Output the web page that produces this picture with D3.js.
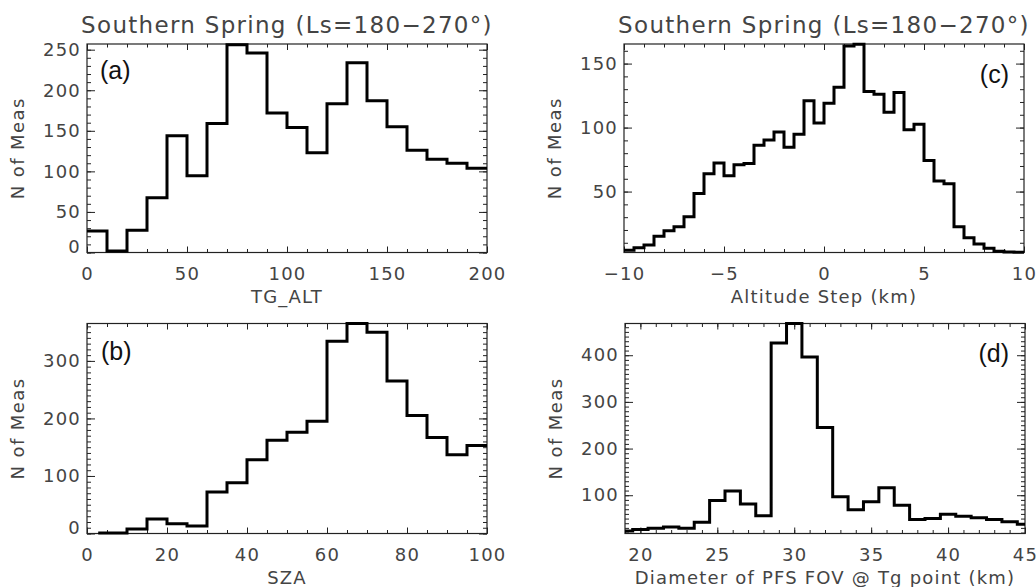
<!DOCTYPE html>
<html>
<head>
<meta charset="utf-8">
<script src="https://cdn.jsdelivr.net/npm/d3@7"></script>
<style>
  html, body { margin: 0; padding: 0; background: #fff; }
  svg { display: block; }
  text { font-family: "DejaVu Sans", sans-serif; fill: #444; }
</style>
</head>
<body>
<svg id="chart" width="1036" height="587"></svg>
<script>
// ---------------- DATA ----------------
const titleText = "Southern Spring (Ls=180\u2212270\u00B0)";
const yTitle = "N of Meas";

// (a) tangent altitude histogram: bin lower edges, bin width 10
const tgAltBins = [0,10,20,30,40,50,60,70,80,90,100,110,120,130,140,150,160,170,180,190];
const tgAltCounts = [26.5,2,27.5,67.5,144,94.5,159,256,246,172,154,123,183.5,234,187,155,126,115,110,104];
const tgAltTicks = [0,50,100,150,200];
const tgAltYTicks = [0,50,100,150,200,250];

// (b) solar zenith angle histogram: bin lower edges, bin width 5
const szaBins = [0,5,10,15,20,25,30,35,40,45,50,55,60,65,70,75,80,85,90,95];
const szaCounts = [1,1,8,25,17,13,72,88,128,162,176,195,334,365,350,265,205,167,137,153];
const szaFirstX = 2.8;
const szaTicks = [0,20,40,60,80,100];
const szaYTicks = [0,100,200,300];

// (c) altitude step histogram: bin lower edges, bin width 0.5
const altStepBins = [-10,-9.5,-9,-8.5,-8,-7.5,-7,-6.5,-6,-5.5,-5,-4.5,-4,-3.5,-3,-2.5,-2,-1.5,-1,-0.5,
                     0,0.5,1,1.5,2,2.5,3,3.5,4,4.5,5,5.5,6,6.5,7,7.5,8,8.5,9,9.5];
const altStepCounts = [4.1,6.2,8.3,15,19.4,22.5,30.3,48.4,64,72.3,62.4,71,72,86.2,90.2,96.6,84.7,94.8,121,103.6,
                       119.1,131.5,163.7,165.2,128.2,126.1,111.9,127.4,98.4,102.6,74.3,58.3,56.2,22.5,14,9,5.7,3.3,2.8,2.5];
const altStepTicks = [-10,-5,0,5,10];
const altStepYTicks = [50,100,150];

// (d) FOV diameter histogram: bin centres, bin width 1
const fovBins = [19,20,21,22,23,24,25,26,27,28,29,30,31,32,33,34,35,36,37,38,39,40,41,42,43,44,45];
const fovCounts = [23.6,26.5,29,32,29,42,88.6,109,81,56,426,468,396,245,96.5,69,86,116,78.6,48,50,59,55,52,48,43,38];
const fovTicks = [20,25,30,35,40,45];
const fovYTicks = [100,200,300,400];

// ---------------- DRAWING ----------------
const svg = d3.select("#chart");

const panels = [
  { tag: "(a)", title: true, xlabel: "TG_ALT",
    left: 87, top: 44, w: 400, h: 208.5,
    xDomain: [0, 200], yDomain: [0, 257],
    lo: tgAltBins, hi: tgAltBins.map(b => b + 10), vals: tgAltCounts, firstX: null,
    xMajor: tgAltTicks, xMinor: 10, yMajor: tgAltYTicks, yMinor: 10,
    tagX: 100, tagY: 79, tagAnchor: "start", shiftBottom: true },
  { tag: "(b)", title: false, xlabel: "SZA",
    left: 87, top: 323.5, w: 400, h: 210,
    xDomain: [0, 100], yDomain: [0, 365],
    lo: szaBins, hi: szaBins.map(b => b + 5), vals: szaCounts, firstX: szaFirstX,
    xMajor: szaTicks, xMinor: 5, yMajor: szaYTicks, yMinor: 10,
    tagX: 101, tagY: 360, tagAnchor: "start", shiftBottom: true },
  { tag: "(c)", title: true, xlabel: "Altitude Step (km)",
    left: 624, top: 44, w: 400, h: 208.5,
    xDomain: [-10, 10], yDomain: [2.4, 165.3],
    lo: altStepBins, hi: altStepBins.map(b => b + 0.5), vals: altStepCounts, firstX: null,
    xMajor: altStepTicks, xMinor: 1, yMajor: altStepYTicks, yMinor: 10,
    tagX: 1009, tagY: 83, tagAnchor: "end", shiftBottom: false },
  { tag: "(d)", title: false, xlabel: "Diameter of PFS FOV @ Tg point (km)",
    left: 625, top: 323.5, w: 400, h: 210,
    xDomain: [19, 45], yDomain: [18, 468],
    lo: fovBins.map(b => b - 0.5), hi: fovBins.map(b => b + 0.5), vals: fovCounts, firstX: null,
    xMajor: fovTicks, xMinor: 1, yMajor: fovYTicks, yMinor: 10,
    tagX: 1009, tagY: 362, tagAnchor: "end", shiftBottom: false }
];

function minorValues(domain, step) {
  const a = Math.ceil(domain[0] / step - 1e-9) * step;
  const out = [];
  for (let v = a; v <= domain[1] + 1e-9; v += step) out.push(+v.toFixed(6));
  return out;
}

panels.forEach(p => {
  const g = svg.append("g").attr("transform", `translate(${p.left},${p.top})`);
  const x = d3.scaleLinear().domain(p.xDomain).range([0, p.w]);
  const y = d3.scaleLinear().domain(p.yDomain).range([p.h, 0]);

  const fmt = d3.format("d");
  const xMinV = minorValues(p.xDomain, p.xMinor);
  const yMinV = minorValues(p.yDomain, p.yMinor);

  const styleAxis = sel => {
    sel.select(".domain").remove();
    sel.selectAll("line").attr("stroke", "#222").attr("stroke-width", 1);
    sel.selectAll("text")
      .style("font-size", "18px").style("letter-spacing", "1.2px")
      .attr("fill", "#444").style("font-family", "'DejaVu Sans', sans-serif");
  };

  // minor ticks (all four sides, inward)
  g.append("g").attr("transform", `translate(0,${p.h})`)
    .call(d3.axisBottom(x).tickValues(xMinV).tickSize(-3.5).tickFormat("")).call(styleAxis);
  g.append("g")
    .call(d3.axisTop(x).tickValues(xMinV).tickSize(-3.5).tickFormat("")).call(styleAxis);
  g.append("g")
    .call(d3.axisLeft(y).tickValues(yMinV).tickSize(-4).tickFormat("")).call(styleAxis);
  g.append("g").attr("transform", `translate(${p.w},0)`)
    .call(d3.axisRight(y).tickValues(yMinV).tickSize(-4).tickFormat("")).call(styleAxis);

  // major ticks
  g.append("g").attr("transform", `translate(0,${p.h})`)
    .call(d3.axisBottom(x).tickValues(p.xMajor).tickSize(-6).tickPadding(15).tickFormat(fmt)).call(styleAxis);
  g.append("g")
    .call(d3.axisTop(x).tickValues(p.xMajor).tickSize(-6).tickFormat("")).call(styleAxis);
  const yl = g.append("g")
    .call(d3.axisLeft(y).tickValues(p.yMajor).tickSize(-8).tickPadding(6).tickFormat(fmt)).call(styleAxis);
  g.append("g").attr("transform", `translate(${p.w},0)`)
    .call(d3.axisRight(y).tickValues(p.yMajor).tickSize(-8).tickFormat("")).call(styleAxis);

  if (p.shiftBottom) {
    yl.selectAll(".tick").filter(d => y(d) > p.h - 6)
      .select("text").attr("transform", "translate(0,-6)");
  }

  // box
  g.append("rect").attr("x", 0).attr("y", 0).attr("width", p.w).attr("height", p.h)
    .attr("fill", "none").attr("stroke", "#222").attr("stroke-width", 1.2);

  // histogram step line
  const pts = [];
  p.vals.forEach((v, i) => {
    let a = Math.max(p.lo[i], p.xDomain[0]);
    if (i === 0 && p.firstX !== null) a = p.firstX;
    const b = Math.min(p.hi[i], p.xDomain[1]);
    pts.push([a, v], [b, v]);
  });
  const line = d3.line().x(d => x(d[0])).y(d => y(d[1]));
  g.append("path").datum(pts).attr("d", line)
    .attr("fill", "none").attr("stroke", "#000").attr("stroke-width", 3)
    .attr("stroke-linejoin", "miter").attr("stroke-linecap", "butt");

  // panel tag
  svg.append("text").attr("x", p.tagX).attr("y", p.tagY)
    .attr("text-anchor", p.tagAnchor)
    .style("font-family", "'Liberation Sans', Arial, sans-serif")
    .style("font-size", "25px").style("fill", "#111")
    .text(p.tag);

  // title
  if (p.title) {
    svg.append("text").attr("x", p.left + p.w / 2).attr("y", 33)
      .attr("text-anchor", "middle")
      .style("font-size", "23px").style("letter-spacing", "1.3px")
      .text(titleText);
  }

  // x label
  svg.append("text").attr("x", p.left + p.w / 2).attr("y", p.top + p.h + 50)
    .attr("text-anchor", "middle")
    .style("font-size", "18px").style("letter-spacing", "1.2px")
    .text(p.xlabel);

  // y label
  const ylx = p.left - 63;
  svg.append("text")
    .attr("transform", `translate(${ylx},${p.top + p.h / 2}) rotate(-90)`)
    .attr("text-anchor", "middle")
    .style("font-size", "18px").style("letter-spacing", "1.4px")
    .text(yTitle);
});
</script>
</body>
</html>
